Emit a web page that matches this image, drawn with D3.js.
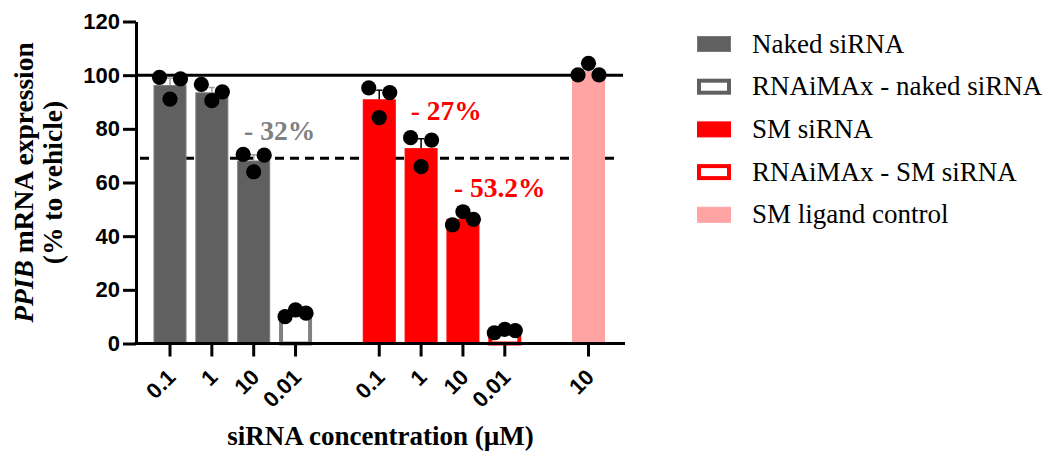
<!DOCTYPE html>
<html lang="en">
<head>
<meta charset="UTF-8">
<title>PPIB mRNA expression</title>
<script src="https://d3js.org/d3.v7.min.js"></script>
<style>
  body { margin: 0; background: #fff; }
  .tick text { font-family: "Liberation Sans", Arial, sans-serif; font-weight: bold; font-size: 22px; }
  .title { font-family: "Liberation Serif", "Times New Roman", serif; font-weight: bold; font-size: 27px; }
  .note { font-family: "Liberation Serif", "Times New Roman", serif; font-weight: bold; font-size: 27.5px; }
  .legend text { font-family: "Liberation Serif", "Times New Roman", serif; font-size: 27px; }
</style>
</head>
<body>
<div id="chart"></div>
<script>
// tick labels (concentration, µM) and which series each bar belongs to
const concLabels = ["0.1", "1", "10", "0.01", "0.1", "1", "10", "0.01", "10"];
const barSeries = [0, 0, 0, 1, 2, 2, 2, 3, 4];
const barGroup = [0, 0, 0, 0, 1, 1, 1, 1, 2];

// bar means, SEM and the three replicates
const means = [96.3, 93.6, 68.2, 11.3, 91.0, 72.8, 46.5, 4.7, 101.5];
const sem = [2.6, 1.8, 2.1, 0.7, 3.4, 3.5, 1.4, 0.4, 1.4];
const reps = [
  [99.2, 91.1, 98.6],
  [96.6, 90.5, 93.8],
  [70.5, 64.0, 70.2],
  [10.0, 12.5, 11.3],
  [95.3, 84.2, 93.5],
  [76.7, 65.9, 75.8],
  [44.2, 49.1, 46.3],
  [4.0, 5.3, 4.8],
  [100.1, 104.4, 100.1]
];

const seriesNames = ["Naked siRNA", "RNAiMAx - naked siRNA", "SM siRNA", "RNAiMAx - SM siRNA", "SM ligand control"];
const seriesFill = ["#606060", "#ffffff", "#ff0000", "#ffffff", "#ffa3a3"];
const seriesStroke = ["#7a7a7a", "#808080", "#ff0000", "#ff0000", "#ffa3a3"];
const errColor = ["#a0a0a0", "#a0a0a0", "#000000", "#000000", "#000000"];

// percent reductions: text, bar slot position and y value where they sit
const notes = [
  {text: "- 32%", slot: 2.62, v: 75.8, color: "#808080"},
  {text: "- 27%", slot: 6.6, v: 83.3, color: "#ff0000"},
  {text: "- 53.2%", slot: 7.88, v: 54.6, color: "#ff0000"}
];
const refSolid = 100;
const refDashed = 69;

const W = 1043, H = 453;
const svg = d3.select("#chart").append("svg")
  .attr("width", W).attr("height", H);

const slot = barGroup.map((g, i) => i + g);

const x = d3.scaleLinear().domain([0, 10]).range([170, 588.5]);
const y = d3.scaleLinear().domain([0, 120]).range([343.5, 21.5]);
const xLeft = 136, xRight = 625;
const barW = 33;

// reference lines
svg.append("line")
  .attr("x1", xLeft).attr("x2", 623)
  .attr("y1", y(refSolid)).attr("y2", y(refSolid))
  .attr("stroke", "#000").attr("stroke-width", 3);
svg.append("line")
  .attr("x1", 140).attr("x2", 616)
  .attr("y1", y(refDashed)).attr("y2", y(refDashed))
  .attr("stroke", "#000").attr("stroke-width", 3)
  .attr("stroke-dasharray", "9,6");

// bars
const bars = svg.append("g");
means.forEach((m, i) => {
  const s = barSeries[i];
  const hollow = seriesFill[s] === "#ffffff";
  const sw = hollow ? 4 : 1;
  bars.append("rect")
    .attr("x", x(slot[i]) - barW / 2 + sw / 2)
    .attr("y", y(m) + sw / 2)
    .attr("width", barW - sw)
    .attr("height", y(0) - y(m) - sw / 2)
    .attr("fill", seriesFill[s])
    .attr("stroke", seriesStroke[s])
    .attr("stroke-width", sw);
  // error bar (upper only)
  const cx = x(slot[i]);
  bars.append("line")
    .attr("x1", cx).attr("x2", cx)
    .attr("y1", y(m)).attr("y2", y(m + sem[i]))
    .attr("stroke", errColor[s]).attr("stroke-width", 1.5);
  bars.append("line")
    .attr("x1", cx - 3).attr("x2", cx + 3)
    .attr("y1", y(m + sem[i])).attr("y2", y(m + sem[i]))
    .attr("stroke", errColor[s]).attr("stroke-width", 1.5);
});

// replicate dots
const jitter = [-10.5, 0, 10.5];
reps.forEach((pts, i) => {
  svg.append("g").selectAll("circle")
    .data(pts)
    .join("circle")
    .attr("cx", (d, j) => x(slot[i]) + jitter[j])
    .attr("cy", d => y(d))
    .attr("r", 7.6)
    .attr("fill", "#000");
});

// axes
const yAxis = svg.append("g")
  .attr("transform", `translate(${xLeft},0)`)
  .call(d3.axisLeft(y).tickValues(d3.range(0, 121, 20)).tickSize(13).tickPadding(3).tickSizeOuter(0));
yAxis.select(".domain").attr("stroke-width", 3);
yAxis.selectAll(".tick line").attr("stroke-width", 3);

const xAxisG = svg.append("g");
xAxisG.append("line")
  .attr("x1", xLeft - 1.5).attr("x2", xRight)
  .attr("y1", y(0)).attr("y2", y(0))
  .attr("stroke", "#000").attr("stroke-width", 3);
const xt = xAxisG.selectAll(".tick")
  .data(concLabels)
  .join("g")
  .attr("class", "tick")
  .attr("transform", (d, i) => `translate(${x(slot[i])},${y(0)})`);
xt.append("line")
  .attr("y1", 0).attr("y2", 13)
  .attr("stroke", "#000").attr("stroke-width", 3);
xt.append("text")
  .attr("transform", "translate(7,35) rotate(-45)")
  .attr("text-anchor", "end")
  .attr("fill", "#000")
  .text(d => d);

// annotations
svg.append("g").selectAll("text")
  .data(notes)
  .join("text")
  .attr("class", "note")
  .attr("x", d => x(d.slot))
  .attr("y", d => y(d.v))
  .attr("text-anchor", "middle")
  .attr("fill", d => d.color)
  .text(d => d.text);

// axis titles
const yt = svg.append("text")
  .attr("class", "title")
  .style("font-size", "27.5px")
  .attr("transform", `translate(33,${(y(0) + y(120)) / 2}) rotate(-90)`)
  .attr("text-anchor", "middle");
yt.append("tspan").attr("font-style", "italic").text("PPIB");
yt.append("tspan").text(" mRNA expression");
svg.append("text")
  .attr("class", "title")
  .style("font-size", "27.5px")
  .attr("transform", `translate(62,${(y(0) + y(120)) / 2}) rotate(-90)`)
  .attr("text-anchor", "middle")
  .text("(% to vehicle)");

svg.append("text")
  .attr("class", "title")
  .attr("x", (xLeft + xRight) / 2)
  .attr("y", 445)
  .attr("text-anchor", "middle")
  .text("siRNA concentration (µM)");

// legend
const lg = svg.append("g").attr("class", "legend");
seriesNames.forEach((name, k) => {
  const cy = 44 + k * 42.7;
  const hollow = seriesFill[k] === "#ffffff";
  const sw = hollow ? 4 : 1;
  lg.append("rect")
    .attr("x", 697 + sw / 2).attr("y", cy - 8 + sw / 2)
    .attr("width", 34 - sw).attr("height", 16 - sw)
    .attr("fill", seriesFill[k])
    .attr("stroke", hollow ? (k === 1 ? "#606060" : "#ff0000") : seriesStroke[k])
    .attr("stroke-width", sw);
  lg.append("text")
    .attr("x", 752).attr("y", cy + 8.5)
    .attr("fill", "#000")
    .text(name);
});
</script>
</body>
</html>
